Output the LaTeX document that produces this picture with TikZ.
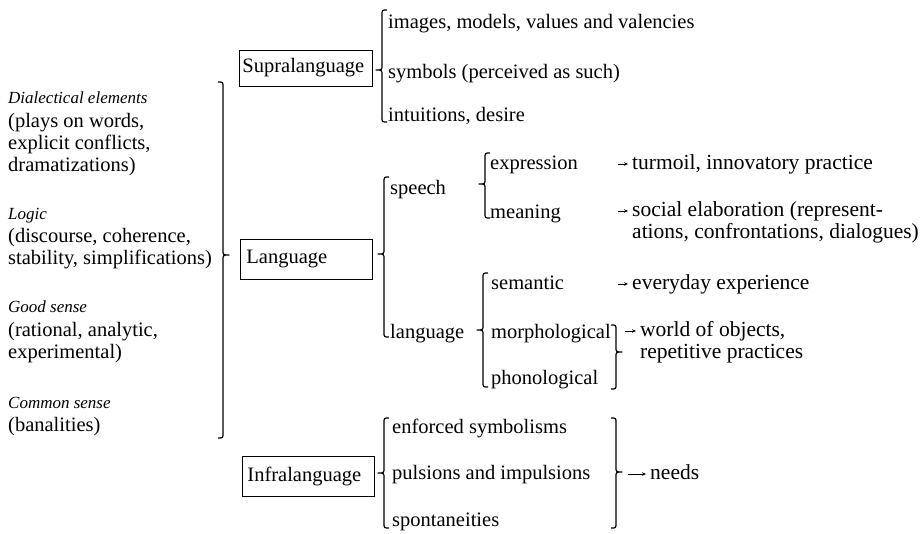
\documentclass[tikz,border=0pt]{standalone}
\usepackage{fontspec}
\setmainfont{Liberation Serif}
\usetikzlibrary{arrows.meta}
% opening brace: spine x, top y, tip y, bottom y
\newcommand{\OpenBr}[4]{%
  \draw[brc] ({#1+5},#2) .. controls (#1,#2) .. (#1,{#2+5}) -- (#1,{#3-5})
    .. controls (#1,#3) .. ({#1-6},#3) .. controls (#1,#3) .. (#1,{#3+5})
    -- (#1,{#4-5}) .. controls (#1,#4) .. ({#1+5},#4);}
% closing brace
\newcommand{\CloseBr}[4]{%
  \draw[brc] ({#1-5},#2) .. controls (#1,#2) .. (#1,{#2+5}) -- (#1,{#3-5})
    .. controls (#1,#3) .. ({#1+6},#3) .. controls (#1,#3) .. (#1,{#3+5})
    -- (#1,{#4-5}) .. controls (#1,#4) .. ({#1-5},#4);}
\begin{document}
\begin{tikzpicture}[x=1pt,y=-1pt,
  txt/.style={anchor=base west, inner sep=0pt, font=\fontsize{20.5}{24}\selectfont},
  rtx/.style={txt, font=\fontsize{21.5}{25}\selectfont},
  itx/.style={txt, font=\fontsize{17}{21}\selectfont\itshape},
  box/.style={draw, line width=0.9pt, anchor=west, align=left, inner ysep=0pt,
    font=\fontsize{20.5}{24}\selectfont},
  brc/.style={line width=1.2pt, line join=round},
  arr/.style={line width=0.7pt, -{Stealth[length=4pt,width=3.5pt]}, shorten >=4pt}]
\useasboundingbox (0,0) rectangle (924,533);
% left column
\node[itx] (l1) at (8,103) {Dialectical elements};
\node[txt] (l2) at (8,127) {(plays on words,};
\node[txt] (l3) at (8,149) {explicit conflicts,};
\node[txt] (l4) at (8,171) {dramatizations)};
\node[itx] (l5) at (8,219) {Logic};
\node[txt] (l6) at (8,242) {(discourse, coherence,};
\node[txt] (l7) at (8,264) {stability, simplifications)};
\node[itx] (l8) at (8,312) {Good sense};
\node[txt] (l9) at (8,336) {(rational, analytic,};
\node[txt] (l10) at (8,358) {experimental)};
\node[itx] (l11) at (8,408) {Common sense};
\node[txt] (l12) at (8,431) {(banalities)};
\CloseBr{223}{82}{255}{438}
% boxes
\node[box, inner xsep=3pt, text width=127pt, minimum height=36pt] (supra) at (239,68) {Supralanguage};
\node[box, inner xsep=6pt, text width=120pt, minimum height=40pt] (lang) at (240,259) {Language};
\node[box, inner xsep=5pt, text width=122pt, minimum height=40pt] (infra) at (242,476) {Infralanguage};
% supralanguage
\OpenBr{382}{10}{70}{122}
\node[txt] (s1) at (388,28) {images, models, values and valencies};
\node[txt] (s2) at (388,78) {symbols (perceived as such)};
\node[txt] (s3) at (388,121) {intuitions, desire};
% language
\OpenBr{384}{177}{254}{337}
\node[txt] (sp) at (390,194) {speech};
\node[txt] (lg) at (390,338) {language};
\OpenBr{485}{153}{184}{218}
\node[txt] (ex) at (490,169) {expression};
\node[txt] (me) at (490,218) {meaning};
\OpenBr{483}{273}{330}{387}
\node[txt] (se) at (491,289) {semantic};
\node[txt] (mo) at (491,338) {morphological};
\node[txt] (ph) at (491,384) {phonological};
\CloseBr{616}{325}{352}{389}
\node[rtx] (r1) at (632,169) {turmoil, innovatory practice};
\node[rtx] (r2) at (632,216) {social elaboration (represent-};
\node[rtx] (r2b) at (632,238) {ations, confrontations, dialogues)};
\node[rtx] (r3) at (632,289) {everyday experience};
\node[rtx] (r4) at (640,336) {world of objects,};
\node[rtx] (r4b) at (640,358) {repetitive practices};
\coordinate (a1) at (618,164);
\coordinate (a2) at (618,211);
\coordinate (a3) at (618,284);
\coordinate (a4) at (625,331);
\draw[arr] (a1) -- (a1 -| r1.west);
\draw[arr] (a2) -- (a2 -| r2.west);
\draw[arr] (a3) -- (a3 -| r3.west);
\draw[arr] (a4) -- (a4 -| r4.west);
% infralanguage
\OpenBr{384}{418}{473}{528}
\node[txt] (i1) at (392,433) {enforced symbolisms};
\node[txt] (i2) at (392,479) {pulsions and impulsions};
\node[txt] (i3) at (392,526) {spontaneities};
\CloseBr{616}{418}{472}{528}
\node[rtx] (nd) at (650,479) {needs};
\coordinate (a5) at (628,474);
\draw[arr] (a5) -- (a5 -| nd.west);
\end{tikzpicture}
\end{document}
